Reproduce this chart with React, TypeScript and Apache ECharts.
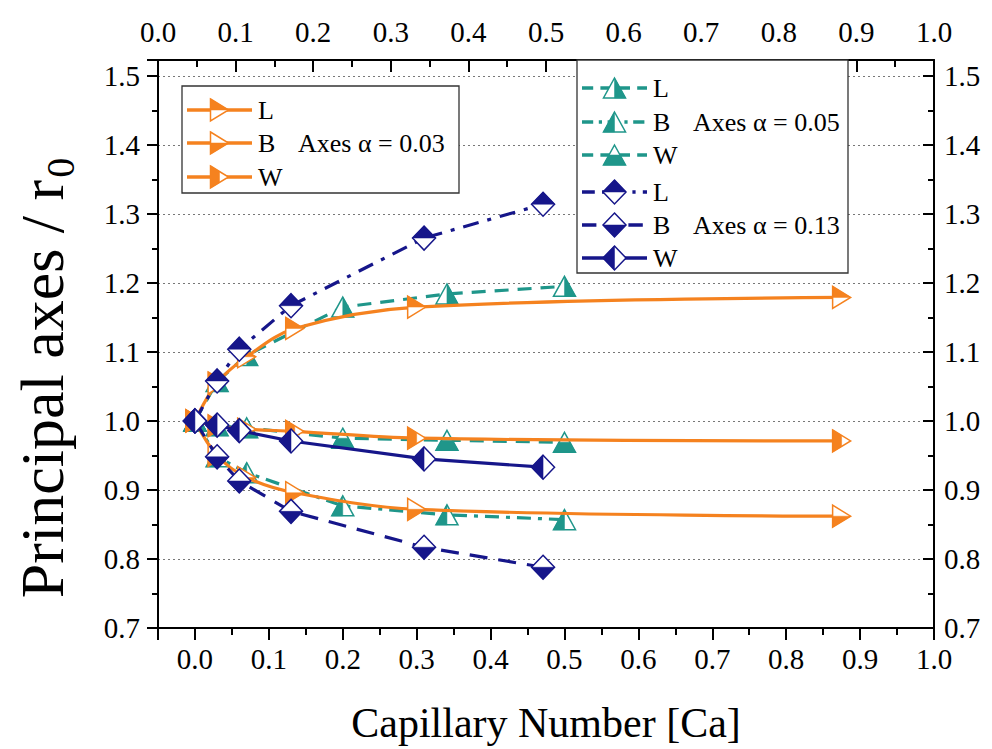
import React, { useEffect, useRef } from "react";
import * as echarts from "echarts";

// Capillary number sample points and principal-axis ratios for each drop
const caOrange = [0, 0.03, 0.07, 0.135, 0.30, 0.875];
const orangeL = [1.0, 1.055, 1.093, 1.134, 1.165, 1.179];
const orangeB = [1.0, 0.95, 0.918, 0.896, 0.872, 0.862];
const orangeW = [1.0, 0.993, 0.988, 0.985, 0.975, 0.971];

const caTeal = [0, 0.03, 0.07, 0.20, 0.341, 0.50];
const tealL = [1.0, 1.057, 1.095, 1.165, 1.184, 1.195];
const tealB = [1.0, 0.948, 0.925, 0.877, 0.864, 0.857];
const tealW = [1.0, 0.993, 0.99, 0.975, 0.972, 0.969];

const caNavy = [0, 0.03, 0.06, 0.13, 0.31, 0.471];
const navyL = [1.0, 1.058, 1.104, 1.167, 1.265, 1.314];
const navyB = [1.0, 0.948, 0.913, 0.869, 0.817, 0.788];
const navyW = [1.0, 0.994, 0.986, 0.971, 0.945, 0.933];

const alphaLabels = ["Axes \u03b1 = 0.03", "Axes \u03b1 = 0.05", "Axes \u03b1 = 0.13"];
const axisNames = ["L", "B", "W"];
const xTitle = "Capillary Number [Ca]";
const yTitle = "{a|Principal axes / r}{s|0}";

const ORANGE = "#f5821f";
const TEAL = "#1f968a";
const NAVY = "#16168a";
const FONT = "Liberation Serif";

type Shape = "right" | "up" | "diamond";
type Half = "top" | "bottom" | "left" | "right";

// Outline and filled half of a half-filled marker, centred on (0,0)
function markerShape(shape: Shape, half: Half) {
  if (shape === "right") {
    const w = 9, h = 11;
    const outline = [[-w, -h], [w, 0], [-w, h]];
    const fills: Record<string, number[][]> = {
      top: [[-w, -h], [w, 0], [-w, 0]],
      bottom: [[-w, 0], [w, 0], [-w, h]],
      left: [[-w, -h], [0, -h / 2], [0, h / 2], [-w, h]],
    };
    return { outline, fill: fills[half] };
  }
  if (shape === "up") {
    const w = 11, h = 10;
    const outline = [[0, -h], [w, h], [-w, h]];
    const fills: Record<string, number[][]> = {
      right: [[0, -h], [w, h], [0, h]],
      left: [[0, -h], [0, h], [-w, h]],
      bottom: [[-w / 2, 0], [w / 2, 0], [w, h], [-w, h]],
    };
    return { outline, fill: fills[half] };
  }
  const w = 11.5, h = 12;
  const outline = [[0, -h], [w, 0], [0, h], [-w, 0]];
  const fills: Record<string, number[][]> = {
    top: [[0, -h], [w, 0], [-w, 0]],
    bottom: [[-w, 0], [w, 0], [0, h]],
    left: [[0, -h], [0, h], [-w, 0]],
  };
  return { outline, fill: fills[half] };
}

function markerChildren(shape: Shape, half: Half, color: string, z = 0) {
  const m = markerShape(shape, half);
  return [
    { type: "polygon", z, shape: { points: m.outline }, style: { fill: "#fff", stroke: color, lineWidth: 1.5 } },
    { type: "polygon", z: z + 1, shape: { points: m.fill }, style: { fill: color, stroke: color, lineWidth: 0.5 } },
  ];
}

interface Curve {
  name: string;
  xs: number[];
  ys: number[];
  color: string;
  shape: Shape;
  half: Half;
  dash: number[] | "solid";
  smooth: number | false;
}

const curves: Curve[] = [
  { name: "L 0.05", xs: caTeal, ys: tealL, color: TEAL, shape: "up", half: "right", dash: [14, 9], smooth: false },
  { name: "B 0.05", xs: caTeal, ys: tealB, color: TEAL, shape: "up", half: "left", dash: [14, 7, 4, 7], smooth: false },
  { name: "W 0.05", xs: caTeal, ys: tealW, color: TEAL, shape: "up", half: "bottom", dash: [14, 9], smooth: false },
  { name: "L 0.03", xs: caOrange, ys: orangeL, color: ORANGE, shape: "right", half: "top", dash: "solid", smooth: 0.35 },
  { name: "B 0.03", xs: caOrange, ys: orangeB, color: ORANGE, shape: "right", half: "bottom", dash: "solid", smooth: 0.35 },
  { name: "W 0.03", xs: caOrange, ys: orangeW, color: ORANGE, shape: "right", half: "left", dash: "solid", smooth: 0.35 },
  { name: "L 0.13", xs: caNavy, ys: navyL, color: NAVY, shape: "diamond", half: "top", dash: [16, 9, 4, 9], smooth: false },
  { name: "B 0.13", xs: caNavy, ys: navyB, color: NAVY, shape: "diamond", half: "bottom", dash: [18, 11], smooth: false },
  { name: "W 0.13", xs: caNavy, ys: navyW, color: NAVY, shape: "diamond", half: "left", dash: "solid", smooth: false },
];

function buildSeries() {
  const out: any[] = [];
  curves.forEach((c, i) => {
    const data = c.xs.map((x, k) => [x, c.ys[k]]);
    out.push({
      type: "line",
      name: c.name + " line",
      data,
      symbol: "none",
      smooth: c.smooth,
      z: 2 + i * 2,
      lineStyle: { color: c.color, width: 3.2, type: c.dash },
    });
    out.push({
      type: "custom",
      name: c.name,
      data,
      z: 3 + i * 2,
      clip: false,
      encode: { x: 0, y: 1 },
      renderItem: (_p: any, api: any) => {
        const pt = api.coord([api.value(0), api.value(1)]);
        return { type: "group", x: pt[0], y: pt[1], children: markerChildren(c.shape, c.half, c.color) };
      },
    });
  });
  return out;
}

// One legend row: line sample, half-filled marker and its label
function legendRow(c: Curve, label: string, x0: number, x1: number, y: number) {
  const mid = (x0 + x1) / 2;
  return [
    {
      type: "line",
      shape: { x1: x0, y1: y, x2: x1, y2: y },
      style: { stroke: c.color, lineWidth: 3.5, lineDash: c.dash === "solid" ? null : c.dash.map((d) => d * 0.8) },
      z: 101,
    },
    { type: "group", x: mid, y, children: markerChildren(c.shape, c.half, c.color, 102) },
    {
      type: "text",
      x: x1 + 6,
      y,
      style: { text: label, font: `26px "${FONT}"`, fill: "#000", textVerticalAlign: "middle", textAlign: "left" },
      z: 102,
    },
  ];
}

function buildGraphics() {
  const byName = (n: string) => curves.find((c) => c.name === n)!;
  const els: any[] = [];
  // Left legend box, alpha = 0.03
  els.push({ type: "rect", shape: { x: 182, y: 86, width: 277, height: 107 }, style: { fill: "#fff", stroke: "#333", lineWidth: 1.3 }, z: 100 });
  const leftRows = [110, 143, 177];
  axisNames.forEach((a, i) => els.push(...legendRow(byName(`${a} 0.03`), a, 187, 252, leftRows[i])));
  els.push({ type: "text", x: 298, y: 143, style: { text: alphaLabels[0], font: `26px "${FONT}"`, fill: "#000", textVerticalAlign: "middle" }, z: 102 });

  // Right legend box, alpha = 0.05 and 0.13
  els.push({ type: "rect", shape: { x: 577, y: 60, width: 271, height: 213 }, style: { fill: "#fff", stroke: "#333", lineWidth: 1.3 }, z: 100 });
  const rightRows = [88, 122, 155, 192, 225, 258];
  axisNames.forEach((a, i) => els.push(...legendRow(byName(`${a} 0.05`), a, 582, 647, rightRows[i])));
  axisNames.forEach((a, i) => els.push(...legendRow(byName(`${a} 0.13`), a, 582, 647, rightRows[i + 3])));
  els.push({ type: "text", x: 693, y: 122, style: { text: alphaLabels[1], font: `26px "${FONT}"`, fill: "#000", textVerticalAlign: "middle" }, z: 102 });
  els.push({ type: "text", x: 693, y: 225, style: { text: alphaLabels[2], font: `26px "${FONT}"`, fill: "#000", textVerticalAlign: "middle" }, z: 102 });

  // Vertical axis title with subscript
  els.push({
    type: "text",
    x: 42,
    y: 378,
    rotation: Math.PI / 2,
    style: {
      text: yTitle,
      textAlign: "center",
      textVerticalAlign: "middle",
      rich: {
        a: { fontFamily: FONT, fontSize: 62, fill: "#000", lineHeight: 76 },
        s: { fontFamily: FONT, fontSize: 40, fill: "#000", lineHeight: 40, verticalAlign: "bottom", padding: [0, 0, 0, 2] },
      },
    },
    z: 50,
  });
  return els;
}

const oneDecimal = (v: number) => (Math.abs(v * 10 - Math.round(v * 10)) < 1e-6 ? v.toFixed(1) : "");

export default function App() {
  const ref = useRef<HTMLDivElement>(null);
  useEffect(() => {
    if (!ref.current) return;
    const chart = echarts.init(ref.current, null, { renderer: "svg" });
    const axisLine = { show: true, onZero: false, lineStyle: { color: "#000", width: 2 } };
    const label = { fontFamily: FONT, fontSize: 29, color: "#000" };
    chart.setOption({
      animation: false,
      backgroundColor: "#fff",
      grid: { left: 158, right: 58, top: 60, bottom: 118 },
      xAxis: [
        {
          type: "value",
          position: "bottom",
          min: -0.05,
          max: 1.0,
          splitNumber: 10,
          axisLine,
          axisTick: { show: true, inside: false, length: 12, lineStyle: { color: "#000", width: 2 } },
          minorTick: { show: true, splitNumber: 2, length: 7, lineStyle: { color: "#000", width: 2 } },
          axisLabel: { ...label, margin: 16, formatter: (v: number) => (v < -1e-6 ? "" : oneDecimal(v)) },
          splitLine: { show: false },
          name: xTitle,
          nameLocation: "middle",
          nameGap: 74,
          nameTextStyle: { fontFamily: FONT, fontSize: 42, color: "#000" },
        },
        {
          type: "value",
          position: "top",
          min: 0,
          max: 1.0,
          interval: 0.1,
          axisLine,
          axisTick: { show: true, inside: true, length: 12, lineStyle: { color: "#000", width: 2 } },
          minorTick: { show: true, splitNumber: 2, length: 7, lineStyle: { color: "#000", width: 2 } },
          axisLabel: { ...label, margin: 14, formatter: oneDecimal },
          splitLine: { show: false },
        },
      ],
      yAxis: [
        {
          type: "value",
          position: "left",
          min: 0.7,
          max: 1.523,
          interval: 0.1,
          axisLine,
          axisTick: { show: true, inside: false, length: 11, lineStyle: { color: "#000", width: 2 } },
          minorTick: { show: true, splitNumber: 2, length: 6, lineStyle: { color: "#000", width: 2 } },
          axisLabel: { ...label, margin: 18, formatter: oneDecimal },
          splitLine: { show: true, lineStyle: { color: "#777", width: 1.2, type: [2, 3] } },
        },
        {
          type: "value",
          position: "right",
          min: 0.7,
          max: 1.523,
          interval: 0.1,
          axisLine,
          axisTick: { show: true, inside: true, length: 11, lineStyle: { color: "#000", width: 2 } },
          minorTick: { show: true, splitNumber: 2, length: 6, lineStyle: { color: "#000", width: 2 } },
          axisLabel: { ...label, margin: 10, formatter: oneDecimal },
          splitLine: { show: false },
        },
      ],
      series: buildSeries(),
      graphic: buildGraphics(),
    });
    return () => chart.dispose();
  }, []);
  return <div ref={ref} style={{ position: "fixed", left: 0, top: 0, width: 992, height: 749 }} />;
}
